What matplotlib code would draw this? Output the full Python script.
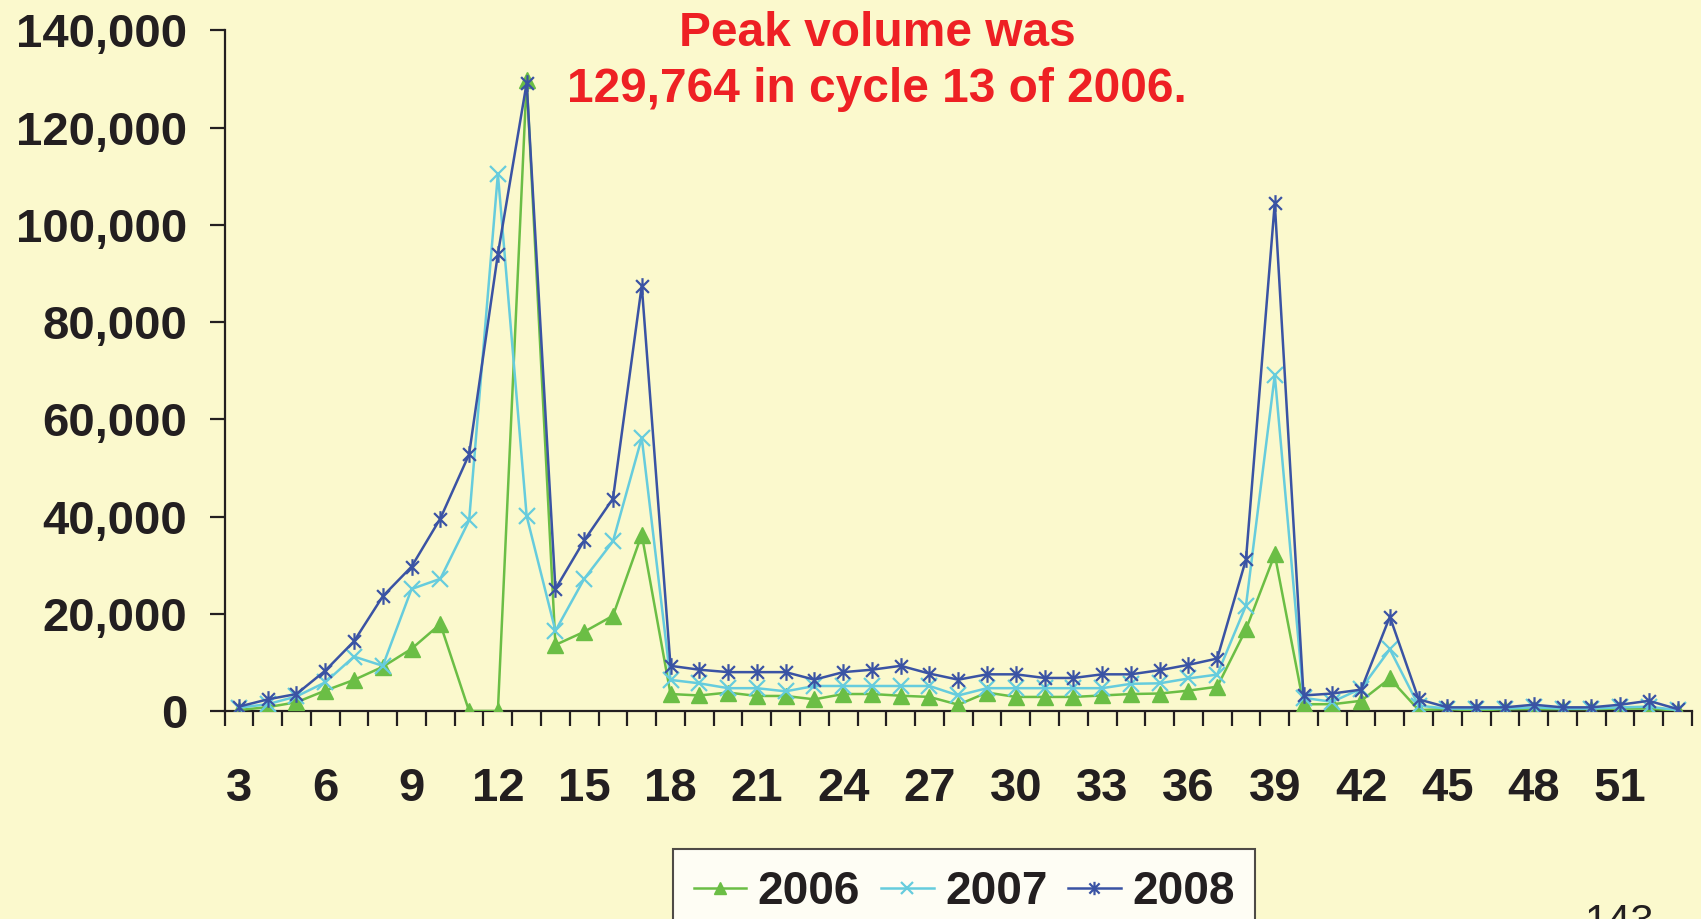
import matplotlib
matplotlib.use("Agg")
import matplotlib.pyplot as plt
from matplotlib.path import Path
from matplotlib.ticker import FixedLocator, FuncFormatter

# Weekly cycles and volumes per year
cycles = list(range(3, 54))

vol_2006 = [200, 800, 1800, 4200, 6400, 9100, 12800, 17900, 0, 0,
            129764, 13600, 16300, 19600, 36300, 3500, 3200, 3800, 3100, 3100,
            2400, 3500, 3500, 3150, 2900, 1300, 3800, 2900, 2900, 2900,
            3200, 3500, 3600, 4200, 5000, 16800, 32200, 1400, 1400, 2100,
            6700, 200, 400, 100, 400, 400, 400, 400, 500, 500, 100]

vol_2007 = [700, 1400, 3000, 5900, 11200, 9300, 25100, 27200, 39200, 110500,
            40100, 16500, 27200, 34900, 56200, 6400, 5700, 4700, 4700, 4050,
            5150, 5150, 5150, 5150, 5150, 3200, 4700, 4700, 4700, 4700,
            4700, 5600, 5700, 6700, 7500, 21700, 69100, 2700, 1900, 4600,
            12700, 1100, 500, 500, 500, 760, 500, 500, 760, 900, 200]

vol_2008 = [900, 2400, 3500, 8300, 14350, 23600, 29700, 39600, 52800, 94000,
            129200, 25100, 35100, 43700, 87500, 9300, 8500, 8000, 8000, 8000,
            6450, 8000, 8500, 9300, 7700, 6450, 7550, 7550, 6800, 6800,
            7550, 7550, 8400, 9500, 10800, 31200, 104500, 3200, 3600, 4400,
            19400, 2400, 760, 760, 760, 1300, 760, 760, 1300, 2100, 400]

series_labels = ["2006", "2007", "2008"]
y_ticks = [0, 20000, 40000, 60000, 80000, 100000, 120000, 140000]
x_tick_labels = list(range(3, 52, 3))

bg = "#FBF9CD"
ink = "#231F20"
colors = ["#6BBE45", "#66CCDD", "#3A53A4"]

# Star marker: an "x" crossed by a vertical bar
star = Path([(-1, -1), (1, 1), (-1, 1), (1, -1), (0, -1.3), (0, 1.3)],
            [Path.MOVETO, Path.LINETO, Path.MOVETO, Path.LINETO,
             Path.MOVETO, Path.LINETO])

fig = plt.figure(figsize=(17.01, 9.19), dpi=100, facecolor=bg)
ax = fig.add_axes([0.1320, 0.2263, 0.8627, 0.7406], facecolor=bg)

ax.plot(cycles, vol_2006, color=colors[0], lw=1.8, marker="^", ms=11.5,
        mec=colors[0], mfc=colors[0], label=series_labels[0], zorder=3)
ax.plot(cycles, vol_2007, color=colors[1], lw=1.8, marker="x", ms=11.5,
        mew=1.6, label=series_labels[1], zorder=4)
ax.plot(cycles, vol_2008, color=colors[2], lw=1.8, marker=star, ms=12,
        mew=1.6, label=series_labels[2], zorder=5)

ax.set_xlim(2.5, 53.5)
ax.set_ylim(0, 140000)

for side in ("top", "right"):
    ax.spines[side].set_visible(False)
for side in ("left", "bottom"):
    ax.spines[side].set_color(ink)
    ax.spines[side].set_linewidth(1.6)

tick_font = dict(family=["Liberation Sans", "DejaVu Sans"], weight="bold", size=34)

ax.yaxis.set_major_locator(FixedLocator(y_ticks))
ax.yaxis.set_major_formatter(FuncFormatter(lambda v, p: f"{int(v):,}"))
ax.tick_params(axis="y", direction="out", length=11, width=1.6, color=ink,
               pad=16, labelcolor=ink)
for lab in ax.get_yticklabels():
    lab.set_fontproperties(matplotlib.font_manager.FontProperties(**tick_font))

# Category boundaries carry the tick marks; labels sit on every third cycle
ax.xaxis.set_minor_locator(FixedLocator([c - 0.5 for c in cycles] + [53.5]))
ax.xaxis.set_major_locator(FixedLocator(x_tick_labels))
ax.set_xticklabels([str(v) for v in x_tick_labels])
ax.tick_params(axis="x", which="minor", direction="out", length=11, width=1.6,
               color=ink)
ax.tick_params(axis="x", which="major", length=0, pad=40, labelcolor=ink)
for lab in ax.get_xticklabels():
    lab.set_fontproperties(matplotlib.font_manager.FontProperties(**tick_font))

# Headline note
note_font = dict(family=["Liberation Sans", "DejaVu Sans"], weight="bold",
                 size=34.5, color="#EE2024", ha="center", va="center")
fig.text(877 / 1701, 1 - 33 / 919, "Peak volume was", **note_font)
fig.text(877 / 1701, 1 - 90 / 919, "129,764 in cycle 13 of 2006.", **note_font)

leg = fig.legend(loc="upper left", bbox_to_anchor=(673 / 1701, 1 - 849 / 919),
                 ncol=3, frameon=True, fancybox=False, borderaxespad=0,
                 handlelength=1.15, handletextpad=0.25, columnspacing=0.45,
                 borderpad=0.45, markerscale=0.8,
                 prop=dict(family=["Liberation Sans Narrow", "Liberation Sans",
                                   "DejaVu Sans"], weight="bold", size=33))
leg.get_frame().set_edgecolor(ink)
leg.get_frame().set_linewidth(1.5)
leg.get_frame().set_facecolor("white")
for t in leg.get_texts():
    t.set_color(ink)

fig.text(1620 / 1701, 1 - 903 / 919, "143", ha="center", va="top",
         family=["Liberation Sans Narrow", "Liberation Sans", "DejaVu Sans"],
         size=30, color=ink)

fig.savefig("out.png", dpi=100, facecolor=bg)
